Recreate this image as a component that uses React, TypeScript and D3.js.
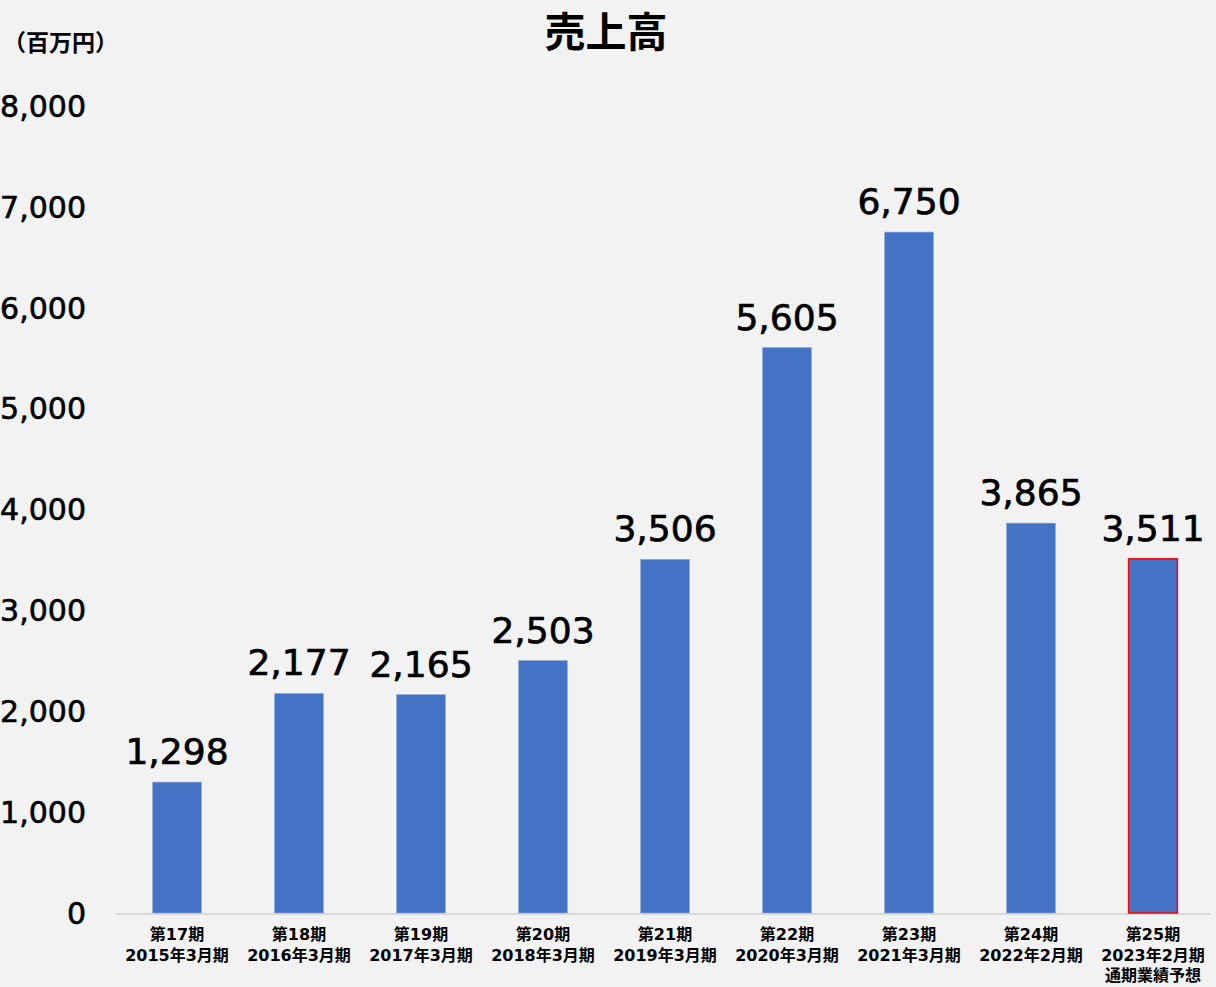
import React from "react";
import * as d3 from "d3";

const periods = ["第17期", "第18期", "第19期", "第20期", "第21期", "第22期", "第23期", "第24期", "第25期"];
const fiscalYears = ["2015年3月期", "2016年3月期", "2017年3月期", "2018年3月期", "2019年3月期", "2020年3月期", "2021年3月期", "2022年2月期", "2023年2月期"];
const notes = ["", "", "", "", "", "", "", "", "通期業績予想"];
const sales = [1298, 2177, 2165, 2503, 3506, 5605, 6750, 3865, 3511];
const forecastFlags = [false, false, false, false, false, false, false, false, true];
const yTicks = [0, 1000, 2000, 3000, 4000, 5000, 6000, 7000, 8000];

const W = 1216;
const H = 987;
const CJK = '"Noto Sans CJK JP", "Noto Sans", sans-serif';
const NUM = '"DejaVu Sans", "Noto Sans CJK JP", sans-serif';

export default function App() {
  const x = d3.scaleBand<number>().domain(d3.range(sales.length)).range([116, 1214]).paddingInner(0.6).paddingOuter(0.3);
  const y = d3.scaleLinear().domain([0, 8000]).range([913, 106]);
  const fmt = d3.format(",");
  const bw = x.bandwidth();

  return (
    <svg width={W} height={H} style={{ position: "absolute", left: 0, top: 0, background: "#f2f2f2" }}>
      <rect x={0} y={0} width={W} height={H} fill="#f2f2f2" />
      <text x={606} y={47} textAnchor="middle" fontSize={41} fontWeight={700} fill="#000" fontFamily={CJK}>売上高</text>
      <text x={3} y={51} fontSize={23} fontWeight={700} fill="#000" fontFamily={CJK}>（百万円）</text>
      {yTicks.map((t) => (
        <text key={t} x={86} y={y(t)} dy="0.36em" textAnchor="end" fontSize={30} fill="#000" stroke="#000" strokeWidth={0.6} fontFamily={NUM}>{fmt(t)}</text>
      ))}
      <line x1={116} x2={1210} y1={y(0) + 1} y2={y(0) + 1} stroke="#d9d9d9" strokeWidth={2} />
      {sales.map((v, i) => (
        <g key={i}>
          <rect x={x(i)} y={y(v)} width={bw} height={y(0) - y(v)} fill="#4472c4"
            stroke={forecastFlags[i] ? "#ff0000" : "#8fa9dc"} strokeWidth={forecastFlags[i] ? 1.5 : 0.6} />
          <text x={(x(i) as number) + bw / 2} y={y(v) - 18} textAnchor="middle" fontSize={36} fill="#000" stroke="#000" strokeWidth={0.7} fontFamily={NUM}>{fmt(v)}</text>
          <text x={(x(i) as number) + bw / 2} y={940} textAnchor="middle" fontSize={16} fontWeight={700} fill="#000" fontFamily={NUM}>{periods[i]}</text>
          <text x={(x(i) as number) + bw / 2} y={961} textAnchor="middle" fontSize={16} fontWeight={700} fill="#000" fontFamily={NUM}>{fiscalYears[i]}</text>
          {notes[i] && (
            <text x={(x(i) as number) + bw / 2} y={981} textAnchor="middle" fontSize={16} fontWeight={700} fill="#000" fontFamily={NUM}>{notes[i]}</text>
          )}
        </g>
      ))}
    </svg>
  );
}
